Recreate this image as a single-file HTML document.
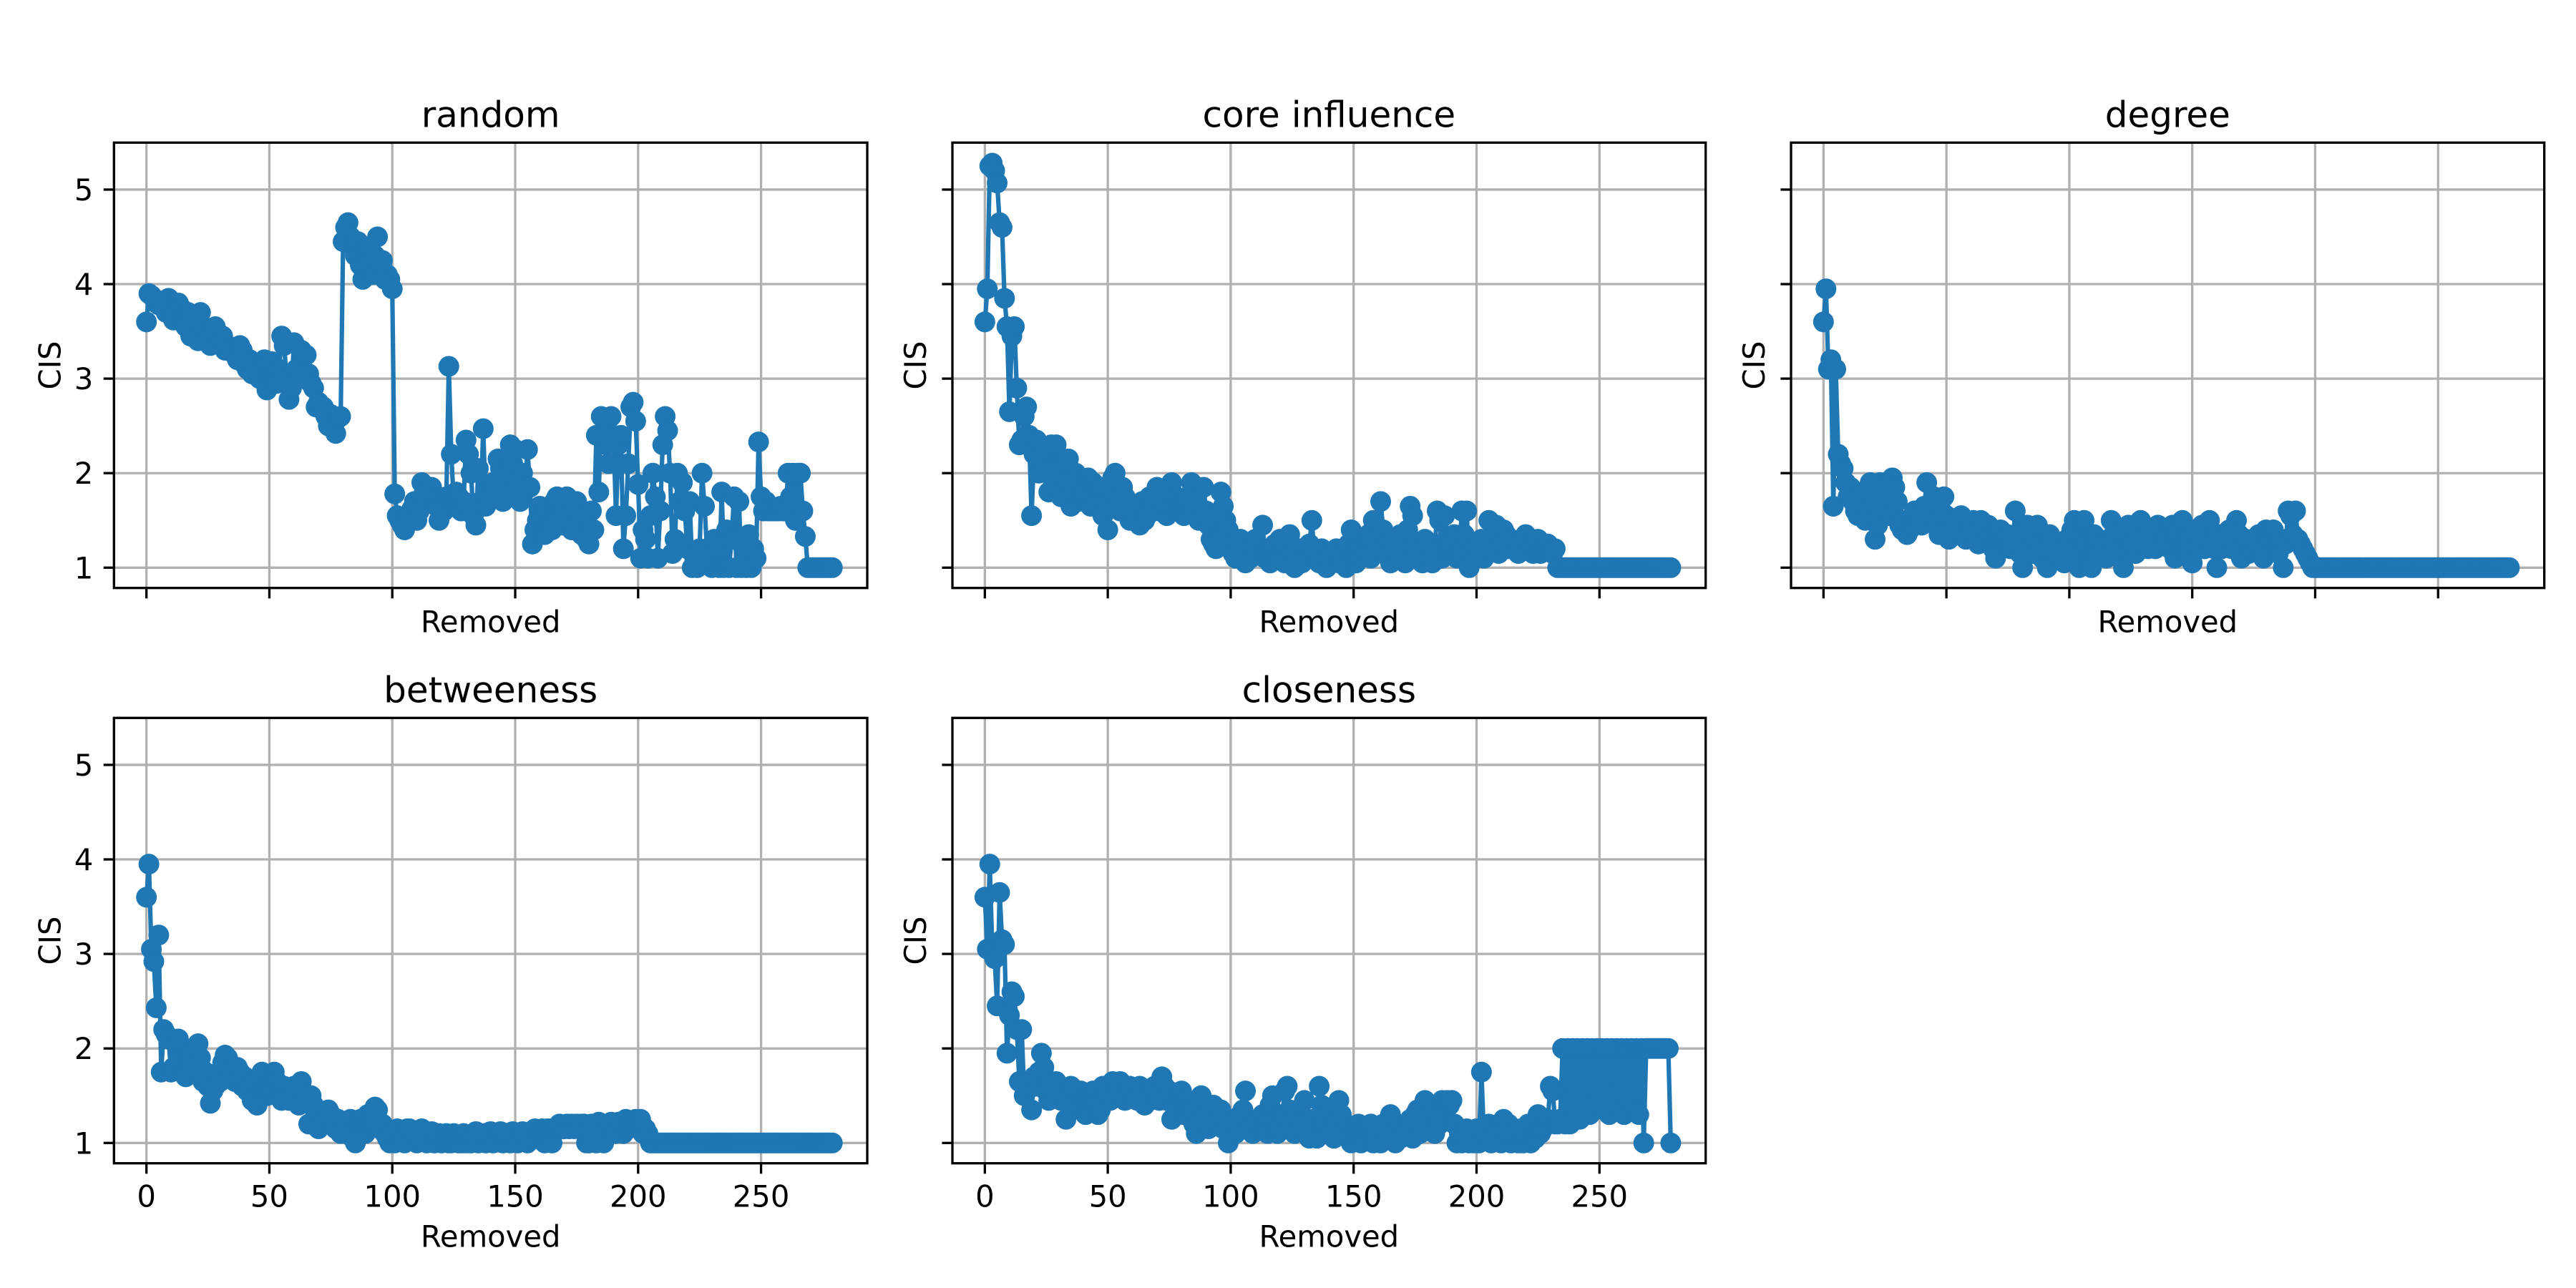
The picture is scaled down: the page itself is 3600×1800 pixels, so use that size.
<!DOCTYPE html>
<html><head><meta charset="utf-8"><style>
html,body{margin:0;padding:0;background:#fff;}
svg{display:block;font-family:"DejaVu Sans","Liberation Sans",sans-serif;}
</style></head><body>
<svg id="fig" width="3600" height="1800" viewBox="0 0 3600 1800" xmlns="http://www.w3.org/2000/svg">
<rect x="0" y="0" width="3600" height="1800" fill="#fff"/>
</svg>
<script>
const xTicks = [0, 50, 100, 150, 200, 250];
const yTicks = [1, 2, 3, 4, 5];
const panelTitles = ["random", "core influence", "degree", "betweeness", "closeness"];
const randomVals = [
3.6,3.9,3.88,3.85,3.8,3.78,3.82,3.75,3.7,3.85,3.8,3.62,3.7,3.8,3.75,3.65,3.55,3.7,3.45,3.5,
3.6,3.4,3.7,3.55,3.5,3.45,3.35,3.5,3.55,3.4,3.38,3.45,3.3,3.35,3.3,3.28,3.25,3.2,3.35,3.3,
3.15,3.1,3.2,3.05,3.1,3.15,3.0,3.12,3.2,2.88,3.05,3.18,3.0,2.95,3.1,3.45,3.35,3.0,2.78,2.9,
3.38,3.1,3.05,3.3,3.0,3.25,3.05,2.95,2.9,2.7,2.75,2.68,2.7,2.6,2.5,2.62,2.55,2.42,2.58,2.6,
4.45,4.6,4.65,4.5,4.4,4.3,4.45,4.2,4.05,4.35,4.25,4.4,4.1,4.3,4.5,4.2,4.25,4.05,4.1,4.05,
3.95,1.78,1.55,1.5,1.45,1.4,1.48,1.55,1.62,1.7,1.5,1.6,1.9,1.8,1.7,1.75,1.85,1.7,1.65,1.5,
1.7,1.6,1.75,3.13,2.2,1.7,1.8,1.75,1.6,1.7,2.35,2.2,2.0,1.55,1.45,2.05,1.7,2.47,1.65,1.7,
1.75,1.9,1.85,2.15,2.05,1.7,1.8,2.0,2.3,2.1,2.25,1.95,1.7,2.0,1.85,2.25,1.85,1.25,1.4,1.5,
1.65,1.55,1.35,1.6,1.5,1.4,1.7,1.75,1.55,1.45,1.6,1.75,1.5,1.4,1.65,1.7,1.45,1.35,1.55,1.3,
1.25,1.6,1.4,2.4,1.8,2.6,2.4,2.3,2.1,2.6,2.4,1.55,2.3,2.4,1.2,1.55,2.1,2.7,2.75,2.55,
1.88,1.1,1.4,1.3,1.1,1.55,2.0,1.75,1.1,1.6,2.3,2.6,2.45,2.0,1.15,1.3,2.0,1.7,1.9,1.6,
1.2,1.7,1.0,1.1,1.0,1.2,2.0,1.65,1.2,1.1,1.0,1.3,1.25,1.0,1.8,1.0,1.4,1.0,1.3,1.75,
1.0,1.7,1.0,1.2,1.0,1.35,1.0,1.2,1.1,2.33,1.75,1.6,1.7,1.6,1.6,1.6,1.6,1.6,1.65,1.6,
1.6,2.0,1.75,2.0,1.5,2.0,2.0,1.6,1.33,1.0,1.0,1.0,1.0,1.0,1.0,1.0,1.0,1.0,1.0,1.0];
const coreVals = [
3.6,3.95,5.25,5.28,5.2,5.07,4.65,4.6,3.85,3.55,2.65,3.45,3.55,2.9,2.3,2.35,2.6,2.7,2.4,1.55,
2.2,2.35,2.0,2.1,2.25,2.05,1.8,2.3,1.9,2.3,2.0,1.75,2.1,1.9,2.15,1.65,1.8,2.0,1.7,1.9,
1.75,1.8,1.95,1.65,1.9,1.7,1.8,1.85,1.55,1.65,1.4,1.8,1.95,2.0,1.7,1.6,1.85,1.75,1.6,1.5,
1.55,1.65,1.5,1.45,1.7,1.5,1.55,1.75,1.6,1.7,1.85,1.6,1.65,1.7,1.55,1.6,1.9,1.65,1.75,1.6,
1.7,1.55,1.65,1.75,1.9,1.6,1.7,1.5,1.55,1.85,1.6,1.45,1.3,1.25,1.2,1.55,1.8,1.65,1.5,1.4,
1.25,1.15,1.1,1.2,1.3,1.15,1.05,1.2,1.1,1.25,1.3,1.15,1.2,1.45,1.1,1.2,1.05,1.15,1.25,1.1,
1.3,1.2,1.05,1.1,1.35,1.15,1.0,1.1,1.2,1.05,1.15,1.1,1.25,1.5,1.15,1.1,1.05,1.2,1.1,1.0,
1.15,1.05,1.1,1.2,1.05,1.15,1.1,1.0,1.25,1.4,1.15,1.05,1.2,1.1,1.25,1.15,1.35,1.1,1.5,1.3,
1.2,1.7,1.4,1.25,1.15,1.05,1.3,1.2,1.1,1.35,1.15,1.05,1.4,1.65,1.55,1.2,1.1,1.15,1.05,1.3,
1.25,1.1,1.05,1.2,1.6,1.5,1.1,1.55,1.3,1.15,1.25,1.35,1.1,1.15,1.6,1.35,1.6,1.0,1.2,1.1,
1.15,1.25,1.3,1.1,1.2,1.5,1.3,1.2,1.45,1.15,1.25,1.4,1.35,1.2,1.3,1.2,1.25,1.15,1.25,1.2,
1.35,1.25,1.2,1.15,1.2,1.3,1.15,1.2,1.2,1.25,1.2,1.15,1.2,1.0,1.0,1.0,1.0,1.0,1.0,1.0,
1.0,1.0,1.0,1.0,1.0,1.0,1.0,1.0,1.0,1.0,1.0,1.0,1.0,1.0,1.0,1.0,1.0,1.0,1.0,1.0,
1.0,1.0,1.0,1.0,1.0,1.0,1.0,1.0,1.0,1.0,1.0,1.0,1.0,1.0,1.0,1.0,1.0,1.0,1.0,1.0];
const degreeVals = [
3.6,3.95,3.1,3.2,1.65,3.1,2.2,2.1,2.05,1.9,1.75,1.85,1.7,1.6,1.55,1.65,1.8,1.5,1.6,1.9,
1.7,1.3,1.45,1.9,1.6,1.75,1.9,1.55,1.95,1.85,1.7,1.45,1.4,1.5,1.35,1.4,1.45,1.6,1.55,1.5,
1.45,1.65,1.9,1.55,1.7,1.75,1.5,1.35,1.6,1.75,1.55,1.3,1.45,1.5,1.35,1.4,1.55,1.5,1.3,1.4,
1.45,1.5,1.35,1.25,1.5,1.4,1.3,1.45,1.35,1.2,1.1,1.3,1.4,1.25,1.3,1.35,1.2,1.25,1.6,1.35,
1.15,1.0,1.3,1.45,1.2,1.15,1.3,1.45,1.25,1.1,1.2,1.0,1.35,1.3,1.15,1.25,1.1,1.2,1.05,1.3,
1.25,1.4,1.5,1.2,1.0,1.3,1.5,1.25,1.05,1.0,1.35,1.2,1.3,1.25,1.15,1.1,1.3,1.5,1.35,1.25,
1.2,1.1,1.0,1.3,1.45,1.25,1.3,1.15,1.35,1.5,1.25,1.3,1.2,1.4,1.3,1.2,1.45,1.25,1.35,1.3,
1.3,1.2,1.45,1.1,1.35,1.25,1.5,1.2,1.3,1.15,1.05,1.4,1.25,1.3,1.45,1.2,1.3,1.5,1.25,1.2,
1.0,1.35,1.2,1.3,1.25,1.4,1.2,1.3,1.5,1.35,1.1,1.25,1.3,1.15,1.2,1.3,1.25,1.35,1.2,1.1,
1.4,1.35,1.3,1.4,1.2,1.15,1.3,1.0,1.25,1.6,1.55,1.35,1.6,1.3,1.25,1.2,1.15,1.1,1.05,1.0,
1.0,1.0,1.0,1.0,1.0,1.0,1.0,1.0,1.0,1.0,1.0,1.0,1.0,1.0,1.0,1.0,1.0,1.0,1.0,1.0,
1.0,1.0,1.0,1.0,1.0,1.0,1.0,1.0,1.0,1.0,1.0,1.0,1.0,1.0,1.0,1.0,1.0,1.0,1.0,1.0,
1.0,1.0,1.0,1.0,1.0,1.0,1.0,1.0,1.0,1.0,1.0,1.0,1.0,1.0,1.0,1.0,1.0,1.0,1.0,1.0,
1.0,1.0,1.0,1.0,1.0,1.0,1.0,1.0,1.0,1.0,1.0,1.0,1.0,1.0,1.0,1.0,1.0,1.0,1.0,1.0];
const betweenVals = [
3.6,3.95,3.05,2.92,2.43,3.2,1.75,2.2,2.15,2.1,1.75,1.8,2.05,2.1,1.9,1.75,1.7,1.85,1.95,1.75,
1.8,2.05,1.9,1.65,1.75,1.6,1.42,1.55,1.6,1.7,1.65,1.85,1.93,1.9,1.75,1.7,1.65,1.8,1.75,1.6,
1.7,1.55,1.6,1.45,1.65,1.4,1.5,1.75,1.6,1.5,1.55,1.6,1.75,1.65,1.5,1.45,1.6,1.55,1.45,1.5,
1.6,1.55,1.4,1.65,1.5,1.45,1.2,1.5,1.4,1.3,1.15,1.25,1.3,1.2,1.35,1.3,1.2,1.15,1.25,1.1,
1.2,1.1,1.15,1.25,1.05,1.0,1.2,1.25,1.15,1.1,1.3,1.2,1.25,1.38,1.35,1.15,1.2,1.1,1.05,1.0,
1.1,1.0,1.15,1.05,1.1,1.0,1.15,1.15,1.05,1.1,1.0,1.05,1.15,1.1,1.0,1.05,1.12,1.0,1.05,1.1,
1.0,1.05,1.1,1.0,1.0,1.1,1.05,1.0,1.0,1.1,1.0,1.05,1.0,1.1,1.12,1.0,1.05,1.1,1.0,1.05,
1.12,1.0,1.05,1.1,1.12,1.0,1.05,1.1,1.0,1.12,1.05,1.0,1.1,1.12,1.05,1.0,1.1,1.05,1.15,1.1,
1.12,1.15,1.0,1.15,1.15,1.0,1.15,1.15,1.2,1.15,1.15,1.2,1.15,1.2,1.15,1.2,1.15,1.2,1.2,1.0,
1.0,1.2,1.2,1.0,1.22,1.2,1.0,1.2,1.2,1.22,1.2,1.1,1.22,1.2,1.1,1.25,1.15,1.2,1.22,1.25,
1.2,1.25,1.1,1.15,1.1,1.0,1.0,1.0,1.0,1.0,1.0,1.0,1.0,1.0,1.0,1.0,1.0,1.0,1.0,1.0,
1.0,1.0,1.0,1.0,1.0,1.0,1.0,1.0,1.0,1.0,1.0,1.0,1.0,1.0,1.0,1.0,1.0,1.0,1.0,1.0,
1.0,1.0,1.0,1.0,1.0,1.0,1.0,1.0,1.0,1.0,1.0,1.0,1.0,1.0,1.0,1.0,1.0,1.0,1.0,1.0,
1.0,1.0,1.0,1.0,1.0,1.0,1.0,1.0,1.0,1.0,1.0,1.0,1.0,1.0,1.0,1.0,1.0,1.0,1.0,1.0];
const closenessVals = [
3.6,3.05,3.95,3.05,2.95,2.45,3.65,3.15,3.1,1.95,2.35,2.6,2.55,2.2,1.65,2.2,1.5,1.55,1.6,1.35,
1.7,1.6,1.75,1.95,1.8,1.55,1.45,1.65,1.5,1.65,1.6,1.45,1.5,1.25,1.45,1.6,1.55,1.5,1.4,1.55,
1.45,1.3,1.35,1.5,1.55,1.4,1.3,1.35,1.6,1.5,1.55,1.45,1.65,1.6,1.5,1.65,1.6,1.45,1.55,1.6,
1.5,1.55,1.45,1.6,1.55,1.4,1.5,1.45,1.55,1.6,1.5,1.45,1.7,1.6,1.45,1.55,1.25,1.4,1.35,1.5,
1.55,1.3,1.45,1.4,1.35,1.2,1.1,1.25,1.5,1.2,1.3,1.15,1.25,1.4,1.2,1.3,1.35,1.15,1.2,1.0,
1.2,1.25,1.1,1.15,1.3,1.35,1.55,1.2,1.15,1.1,1.2,1.25,1.15,1.3,1.2,1.1,1.4,1.5,1.2,1.1,
1.15,1.3,1.55,1.6,1.35,1.2,1.1,1.3,1.2,1.15,1.45,1.2,1.05,1.25,1.1,1.05,1.6,1.4,1.3,1.25,
1.35,1.15,1.05,1.2,1.45,1.3,1.1,1.2,1.05,1.0,1.15,1.1,1.2,1.0,1.15,1.05,1.1,1.2,1.0,1.05,
1.1,1.0,1.2,1.15,1.05,1.3,1.1,1.0,1.2,1.05,1.15,1.1,1.2,1.25,1.05,1.3,1.35,1.1,1.25,1.45,
1.2,1.3,1.35,1.1,1.25,1.2,1.45,1.3,1.45,1.4,1.45,1.2,1.0,1.1,1.0,1.05,1.15,1.0,1.1,1.0,
1.15,1.0,1.75,1.05,1.1,1.2,1.0,1.15,1.1,1.2,1.0,1.25,1.05,1.2,1.0,1.1,1.05,1.0,1.15,1.0,
1.1,1.2,1.0,1.15,1.05,1.3,1.1,1.15,1.2,1.25,1.6,1.55,1.2,1.2,1.25,2.0,1.2,2.0,1.2,2.0,
1.3,2.0,1.25,2.0,1.4,2.0,1.3,2.0,1.4,2.0,1.5,2.0,1.35,2.0,1.3,2.0,1.5,2.0,1.35,2.0,
1.3,2.0,1.45,2.0,1.35,2.0,1.3,2.0,1.0,2.0,2.0,2.0,2.0,2.0,2.0,2.0,2.0,2.0,2.0,1.0];
const allSeries = [randomVals, coreVals, degreeVals, betweenVals, closenessVals];

const NS = "http://www.w3.org/2000/svg";
const svg = document.getElementById("fig");
const AX_W = 1052.7, AX_H = 622.4;
const colLeft = [159.3, 1331, 2503];
const rowTop = [199.3, 1003.3];
const X_MIN = -13.2, X_MAX = 293.2, Y_MIN = 0.785, Y_MAX = 5.497;
function mk(tag, attrs, parent) {
  const e = document.createElementNS(NS, tag);
  for (const k in attrs) e.setAttribute(k, attrs[k]);
  (parent || svg).appendChild(e);
  return e;
}
panelTitles.forEach((title, p) => {
  const col = p % 3, row = Math.floor(p / 3);
  const L = colLeft[col], T = rowTop[row], B = T + AX_H, R = L + AX_W;
  const sx = v => L + (v - X_MIN) / (X_MAX - X_MIN) * AX_W;
  const sy = v => B - (v - Y_MIN) / (Y_MAX - Y_MIN) * AX_H;
  const g = mk("g", {});
  
  
  xTicks.forEach(t => {
    const ln = mk("line", {x1: sx(t), x2: sx(t), y1: T, y2: B, stroke: "#b0b0b0", "stroke-width": 3.3}, g);
    
    
    const tk = mk("line", {x1: sx(t), x2: sx(t), y1: B, y2: B + 14.6, stroke: "#000", "stroke-width": 3.3}, g);
    
    
    if (row === 1) {
      const tl = mk("text", {x: sx(t), y: B + 61, "text-anchor": "middle", "font-size": 41.7, fill: "#000"}, g);
      tl.textContent = String(t);
      
      
    }
  });
  yTicks.forEach(t => {
    const ln = mk("line", {x1: L, x2: R, y1: sy(t), y2: sy(t), stroke: "#b0b0b0", "stroke-width": 3.3}, g);
    
    
    const tk = mk("line", {x1: L - 14.6, x2: L, y1: sy(t), y2: sy(t), stroke: "#000", "stroke-width": 3.3}, g);
    
    
    if (col === 0) {
      const tl = mk("text", {x: L - 29, y: sy(t) + 15, "text-anchor": "end", "font-size": 41.7, fill: "#000"}, g);
      tl.textContent = String(t);
      
      
    }
  });
  const vals = allSeries[p];
  const pts = vals.map((v, i) => sx(i).toFixed(1) + "," + sy(v).toFixed(1)).join(" ");
  const pl = mk("polyline", {points: pts, fill: "none", stroke: "#1f77b4", "stroke-width": 6.25, "stroke-linejoin": "round", "stroke-linecap": "square"}, g);
  
  
  vals.forEach((v, i) => {
    const c = mk("circle", {cx: sx(i), cy: sy(v), r: 14.5, fill: "#1f77b4"}, g);
    
    
  });
  const fr = mk("rect", {x: L, y: T, width: AX_W, height: AX_H, fill: "none", stroke: "#000", "stroke-width": 3.3}, g);
  
  
  const tt = mk("text", {x: L + AX_W / 2, y: T - 22, "text-anchor": "middle", "font-size": 50, fill: "#000"}, g);
  tt.textContent = title;
  
  
  const xl = mk("text", {x: L + AX_W / 2, y: row === 1 ? B + 117 : B + 62, "text-anchor": "middle", "font-size": 41.7, fill: "#000"}, g);
  xl.textContent = "Removed";
  
  
  const yc = col === 0 ? L - 90 : L - 52;
  const yl = mk("text", {transform: "translate(" + (yc + 15) + "," + (T + AX_H / 2) + ") rotate(-90)", "text-anchor": "middle", "font-size": 41.7, fill: "#000"}, g);
  yl.textContent = "CIS";
  
  
});
</script>
</body></html>
